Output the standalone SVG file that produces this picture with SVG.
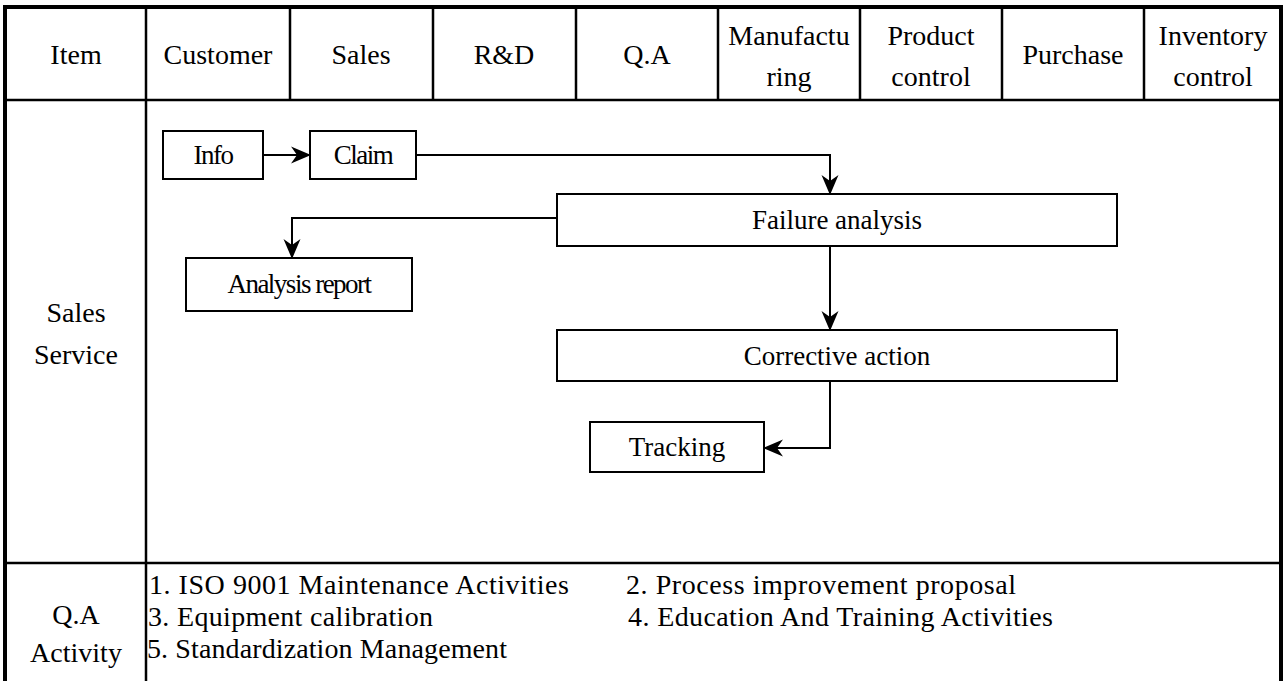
<svg xmlns="http://www.w3.org/2000/svg" width="1286" height="681" viewBox="0 0 1286 681">
<style>
text{font-family:"Liberation Serif","Times New Roman",serif;fill:#000}
.h{font-size:28px;text-anchor:middle}
.n{font-size:27px;text-anchor:middle}
.t{font-size:28px}
.tight{letter-spacing:-1.5px}
.box{fill:#fff;stroke:#000;stroke-width:2}
.grid{stroke:#000;stroke-width:2.5;fill:none}
.outer{stroke:#000;stroke-width:4;fill:none}
.conn{stroke:#000;stroke-width:2;fill:none}
</style>
<defs>
<marker id="ah" viewBox="0 0 20 20" refX="19" refY="10" markerWidth="20" markerHeight="20" markerUnits="userSpaceOnUse" orient="auto">
<path d="M0,1.5 L20,10 L0,18.5 L6,10 z" fill="#000"/>
</marker>
</defs>
<rect width="1286" height="681" fill="#fff"/>
<g id="table">
<path class="outer" d="M5,681 L5,7 L1281,7 L1281,681"/>
<path class="grid" d="M5,100 L1281,100 M5,563 L1281,563 M146,7 L146,681 M290,7 L290,100 M433,7 L433,100 M576,7 L576,100 M718,7 L718,100 M860,7 L860,100 M1002,7 L1002,100 M1144,7 L1144,100"/>
</g>
<g id="header">
<text class="h" x="76" y="64">Item</text>
<text class="h" x="218" y="64">Customer</text>
<text class="h" x="361" y="64">Sales</text>
<text class="h" x="504" y="64">R&amp;D</text>
<text class="h" x="647" y="64">Q.A</text>
<text class="h" x="789" y="45">Manufactu</text>
<text class="h" x="789" y="86">ring</text>
<text class="h" x="931" y="45">Product</text>
<text class="h" x="931" y="86">control</text>
<text class="h" x="1073" y="64">Purchase</text>
<text class="h" x="1213" y="45">Inventory</text>
<text class="h" x="1213" y="86">control</text>
</g>
<g id="row-sales-service">
<text class="h" x="76" y="322">Sales</text>
<text class="h" x="76" y="364">Service</text>
</g>
<g id="connectors">
<path class="conn" d="M263,155 L310,155" marker-end="url(#ah)"/>
<path class="conn" d="M416,155 L830,155 L830,194" marker-end="url(#ah)"/>
<path class="conn" d="M557,218 L292,218 L292,258" marker-end="url(#ah)"/>
<path class="conn" d="M830,246 L830,330" marker-end="url(#ah)"/>
<path class="conn" d="M830,381 L830,448 L764,448" marker-end="url(#ah)"/>
</g>
<g id="node-info">
<rect class="box" x="163" y="131" width="100" height="48"/>
<text class="n tight" x="213" y="164">Info</text>
</g>
<g id="node-claim">
<rect class="box" x="310" y="131" width="106" height="48"/>
<text class="n tight" x="363" y="164">Claim</text>
</g>
<g id="node-failure-analysis">
<rect class="box" x="557" y="194" width="560" height="52"/>
<text class="n" x="837" y="229">Failure analysis</text>
</g>
<g id="node-analysis-report">
<rect class="box" x="186" y="258" width="226" height="53"/>
<text class="n tight" x="299" y="293">Analysis report</text>
</g>
<g id="node-corrective-action">
<rect class="box" x="557" y="330" width="560" height="51"/>
<text class="n" x="837" y="365">Corrective action</text>
</g>
<g id="node-tracking">
<rect class="box" x="590" y="422" width="174" height="50"/>
<text class="n" x="677" y="456">Tracking</text>
</g>
<g id="row-qa-activity">
<text class="h" x="76" y="624">Q.A</text>
<text class="h" x="76" y="662">Activity</text>
<text class="t" x="149" y="594" textLength="420" lengthAdjust="spacing">1. ISO 9001 Maintenance Activities</text>
<text class="t" x="148" y="626" textLength="285" lengthAdjust="spacing">3. Equipment calibration</text>
<text class="t" x="147" y="658" textLength="360" lengthAdjust="spacing">5. Standardization Management</text>
<text class="t" x="626" y="594" textLength="390" lengthAdjust="spacing">2. Process improvement proposal</text>
<text class="t" x="628" y="626" textLength="425" lengthAdjust="spacing">4. Education And Training Activities</text>
</g>
</svg>
